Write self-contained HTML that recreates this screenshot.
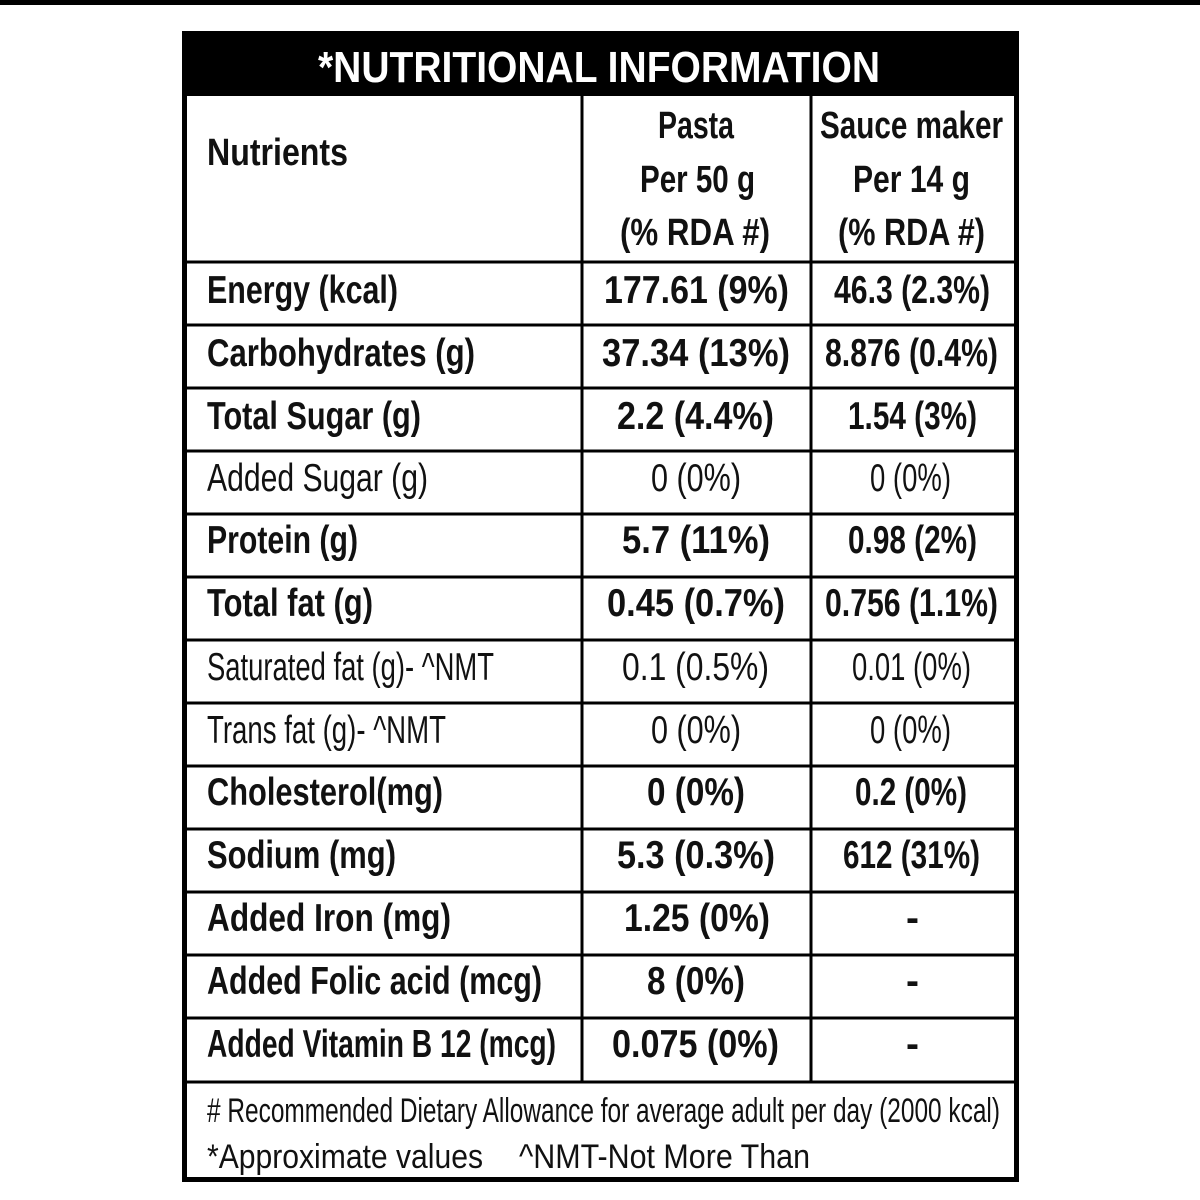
<!DOCTYPE html>
<html><head><style>html,body{margin:0;padding:0;background:#fff;}svg{display:block}</style></head>
<body>
<svg width="1200" height="1200" viewBox="0 0 1200 1200" xmlns="http://www.w3.org/2000/svg" font-family="Liberation Sans, sans-serif" fill="#111">
<rect x="0" y="0" width="1200" height="5" fill="#000"/>
<rect x="183" y="32" width="835" height="64" fill="#000"/>
<rect x="184.5" y="33.5" width="832" height="1146" fill="none" stroke="#000" stroke-width="5"/>
<g stroke="#000" stroke-width="3">
<line x1="582" y1="96" x2="582" y2="1082"/>
<line x1="811" y1="96" x2="811" y2="1082"/>
<line x1="185" y1="262" x2="1016" y2="262"/>
<line x1="185" y1="325" x2="1016" y2="325"/>
<line x1="185" y1="388" x2="1016" y2="388"/>
<line x1="185" y1="451" x2="1016" y2="451"/>
<line x1="185" y1="514" x2="1016" y2="514"/>
<line x1="185" y1="577" x2="1016" y2="577"/>
<line x1="185" y1="640" x2="1016" y2="640"/>
<line x1="185" y1="703" x2="1016" y2="703"/>
<line x1="185" y1="766" x2="1016" y2="766"/>
<line x1="185" y1="829" x2="1016" y2="829"/>
<line x1="185" y1="892" x2="1016" y2="892"/>
<line x1="185" y1="955" x2="1016" y2="955"/>
<line x1="185" y1="1018" x2="1016" y2="1018"/>
<line x1="185" y1="1082" x2="1016" y2="1082"/>
</g>
<text x="318" y="82" font-size="44" font-weight="bold" fill="#fff" textLength="562" lengthAdjust="spacingAndGlyphs">*NUTRITIONAL INFORMATION</text>
<g font-size="38" font-weight="bold">
<text x="207" y="165" textLength="141" lengthAdjust="spacingAndGlyphs">Nutrients</text>
<text x="658" y="138" textLength="76" lengthAdjust="spacingAndGlyphs">Pasta</text>
<text x="640" y="192" textLength="115" lengthAdjust="spacingAndGlyphs">Per 50 g</text>
<text x="620" y="245" textLength="150" lengthAdjust="spacingAndGlyphs">(% RDA #)</text>
<text x="820" y="138" textLength="183" lengthAdjust="spacingAndGlyphs">Sauce maker</text>
<text x="853" y="192" textLength="117" lengthAdjust="spacingAndGlyphs">Per 14 g</text>
<text x="838" y="245" textLength="147" lengthAdjust="spacingAndGlyphs">(% RDA #)</text>
</g>
<g font-size="39" transform="translate(0,-3)">
<text x="207" y="306" font-weight="bold" textLength="191" lengthAdjust="spacingAndGlyphs">Energy (kcal)</text>
<text x="207" y="369" font-weight="bold" textLength="268" lengthAdjust="spacingAndGlyphs">Carbohydrates (g)</text>
<text x="207" y="432" font-weight="bold" textLength="214" lengthAdjust="spacingAndGlyphs">Total Sugar (g)</text>
<text x="207" y="494" textLength="221" lengthAdjust="spacingAndGlyphs">Added Sugar (g)</text>
<text x="207" y="556" font-weight="bold" textLength="151" lengthAdjust="spacingAndGlyphs">Protein (g)</text>
<text x="207" y="619" font-weight="bold" textLength="166" lengthAdjust="spacingAndGlyphs">Total fat (g)</text>
<text x="207" y="683" textLength="287" lengthAdjust="spacingAndGlyphs">Saturated fat (g)-  ^NMT</text>
<text x="207" y="746" textLength="239" lengthAdjust="spacingAndGlyphs">Trans fat (g)-  ^NMT</text>
<text x="207" y="808" font-weight="bold" textLength="236" lengthAdjust="spacingAndGlyphs">Cholesterol(mg)</text>
<text x="207" y="871" font-weight="bold" textLength="189" lengthAdjust="spacingAndGlyphs">Sodium (mg)</text>
<text x="207" y="934" font-weight="bold" textLength="244" lengthAdjust="spacingAndGlyphs">Added Iron (mg)</text>
<text x="207" y="997" font-weight="bold" textLength="335" lengthAdjust="spacingAndGlyphs">Added Folic acid (mcg)</text>
<text x="207" y="1060" font-weight="bold" textLength="349" lengthAdjust="spacingAndGlyphs">Added Vitamin B 12 (mcg)</text>

<text x="604" y="306" font-weight="bold" textLength="185" lengthAdjust="spacingAndGlyphs">177.61 (9%)</text>
<text x="602" y="369" font-weight="bold" textLength="188" lengthAdjust="spacingAndGlyphs">37.34 (13%)</text>
<text x="617" y="432" font-weight="bold" textLength="157" lengthAdjust="spacingAndGlyphs">2.2 (4.4%)</text>
<text x="651" y="494" textLength="90" lengthAdjust="spacingAndGlyphs">0 (0%)</text>
<text x="622" y="556" font-weight="bold" textLength="148" lengthAdjust="spacingAndGlyphs">5.7 (11%)</text>
<text x="607" y="619" font-weight="bold" textLength="178" lengthAdjust="spacingAndGlyphs">0.45 (0.7%)</text>
<text x="622" y="683" textLength="147" lengthAdjust="spacingAndGlyphs">0.1 (0.5%)</text>
<text x="651" y="746" textLength="90" lengthAdjust="spacingAndGlyphs">0 (0%)</text>
<text x="647" y="808" font-weight="bold" textLength="98" lengthAdjust="spacingAndGlyphs">0 (0%)</text>
<text x="617" y="871" font-weight="bold" textLength="158" lengthAdjust="spacingAndGlyphs">5.3 (0.3%)</text>
<text x="624" y="934" font-weight="bold" textLength="146" lengthAdjust="spacingAndGlyphs">1.25 (0%)</text>
<text x="647" y="997" font-weight="bold" textLength="98" lengthAdjust="spacingAndGlyphs">8 (0%)</text>
<text x="612" y="1060" font-weight="bold" textLength="167" lengthAdjust="spacingAndGlyphs">0.075 (0%)</text>

<text x="834" y="306" font-weight="bold" textLength="156" lengthAdjust="spacingAndGlyphs">46.3 (2.3%)</text>
<text x="825" y="369" font-weight="bold" textLength="173" lengthAdjust="spacingAndGlyphs">8.876 (0.4%)</text>
<text x="848" y="432" font-weight="bold" textLength="129" lengthAdjust="spacingAndGlyphs">1.54 (3%)</text>
<text x="870" y="494" textLength="81" lengthAdjust="spacingAndGlyphs">0 (0%)</text>
<text x="848" y="556" font-weight="bold" textLength="129" lengthAdjust="spacingAndGlyphs">0.98 (2%)</text>
<text x="825" y="619" font-weight="bold" textLength="173" lengthAdjust="spacingAndGlyphs">0.756 (1.1%)</text>
<text x="852" y="683" textLength="119" lengthAdjust="spacingAndGlyphs">0.01 (0%)</text>
<text x="870" y="746" textLength="81" lengthAdjust="spacingAndGlyphs">0 (0%)</text>
<text x="855" y="808" font-weight="bold" textLength="112" lengthAdjust="spacingAndGlyphs">0.2 (0%)</text>
<text x="843" y="871" font-weight="bold" textLength="137" lengthAdjust="spacingAndGlyphs">612 (31%)</text>
<text x="906" y="934" font-weight="bold">-</text>
<text x="906" y="997" font-weight="bold">-</text>
<text x="906" y="1060" font-weight="bold">-</text>
</g>
<g font-size="34">
<text x="207" y="1122" textLength="793" lengthAdjust="spacingAndGlyphs"># Recommended Dietary Allowance for average adult per day (2000 kcal)</text>
<text x="207" y="1168" textLength="276" lengthAdjust="spacingAndGlyphs">*Approximate values</text>
<text x="519" y="1168" textLength="291" lengthAdjust="spacingAndGlyphs">^NMT-Not More Than</text>
</g>
</svg>
</body></html>
